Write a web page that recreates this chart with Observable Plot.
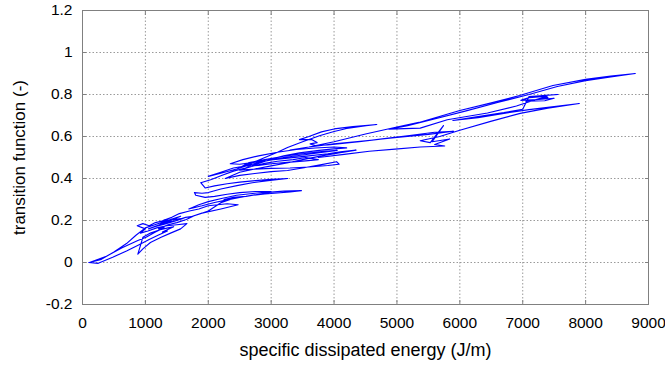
<!DOCTYPE html>
<html><head><meta charset="utf-8">
<script src="https://cdn.jsdelivr.net/npm/d3@7"></script>
<script src="https://cdn.jsdelivr.net/npm/@observablehq/plot@0.6"></script>
<style>body{margin:0;background:#fff;}</style>
</head><body><div id="chart"></div>
<script>
const xTicks = [0,1000,2000,3000,4000,5000,6000,7000,8000,9000];
const yTicks = [-0.2,0,0.2,0.4,0.6,0.8,1.0,1.2];
const xTitle = "specific dissipated energy (J/m)";
const yTitle = "transition function (-)";

// [specific dissipated energy (J/m), transition function (-)]
const lowBand = [
 [100,0.000],[250,-0.004],[480,0.025],[700,0.055],[900,0.085],[1060,0.11],[1200,0.13],[1350,0.15],[1270,0.145],[1450,0.17],[1360,0.165],[1220,0.155],[1080,0.14],[960,0.12],[880,0.04],[960,0.065],[1080,0.095],[1250,0.12],[1400,0.14],[1560,0.16],[1660,0.185],[1500,0.18],[1340,0.175],[1180,0.165],[1040,0.15],[920,0.14],[1000,0.16],[870,0.175],[960,0.185],[1060,0.175],[1160,0.19],[1300,0.2],[1240,0.185],[1400,0.2],[1560,0.22],[1460,0.21],[1300,0.195],[1150,0.18],[1000,0.165],[850,0.13],[700,0.09],[500,0.05],[300,0.015],[110,0.0],[380,0.03],[630,0.07],[880,0.105],[1010,0.12],[1160,0.145],[1300,0.165],[1210,0.16],[1360,0.18],[1500,0.19],[1650,0.205],[1760,0.22],[1640,0.215],[1480,0.2],[1320,0.19],[1180,0.175],[1050,0.16],[1150,0.17],[1300,0.182],[1450,0.195],[1600,0.21],[1450,0.205],[1280,0.2],[1420,0.215],[1540,0.233],[1700,0.245],[1850,0.255],[2000,0.27],[2300,0.28],[2475,0.275],[2200,0.255],[1900,0.235],[1690,0.214],[1800,0.225],[2000,0.245]
];
const midLow = [
 [2200,0.285],[2350,0.3],[2250,0.3],[2400,0.31],[2600,0.315],[2800,0.325],[3000,0.335],[3200,0.34],[3480,0.342],[3300,0.336],[3100,0.331],[2900,0.326],[2700,0.32],[2500,0.31],[2300,0.298],[2100,0.286],[1900,0.27],[1690,0.255],[1850,0.275],[2000,0.29],[2210,0.305],[2450,0.32],[2740,0.33],[3000,0.338],[2750,0.338],[2500,0.333],[2300,0.325],[2100,0.315],[1950,0.31],[1800,0.32],[1780,0.333],[1900,0.33],[2000,0.333],[2200,0.35],[2475,0.367],[2700,0.38],[2950,0.39],[3260,0.4],[3000,0.396],[2750,0.39],[2500,0.383],[2300,0.375],[2100,0.365],[1950,0.355]
];
const midBand = [
 [1880,0.38],[2050,0.395],[2210,0.414],[2400,0.435],[2590,0.45],[2800,0.472],[3000,0.492],[3200,0.508],[3450,0.522],[3730,0.533],[3950,0.54],[4200,0.546],[4000,0.55],[3700,0.545],[3400,0.538],[3100,0.525],[2800,0.508],[2550,0.49],[2350,0.47],[2500,0.468],[2750,0.478],[3000,0.488],[3300,0.498],[3600,0.508],[3900,0.518],[4100,0.527],[4350,0.535],[4100,0.523],[3800,0.508],[3500,0.49],[3250,0.474],[3000,0.46],[2740,0.445],[2500,0.43],[2270,0.4],[2500,0.415],[2740,0.424],[3000,0.433],[3260,0.438],[3500,0.45],[3780,0.465],[4040,0.48],[4080,0.468],[3900,0.462],[3600,0.455],[3300,0.45],[3000,0.448],[2700,0.444],[2500,0.44],[2700,0.458],[2900,0.472],[3100,0.482],[3350,0.49],[3550,0.5],[3750,0.49],[3550,0.484],[3300,0.478],[3000,0.47],[2800,0.462],[2600,0.46],[2400,0.45],[2200,0.43],[2000,0.41],[2200,0.425],[2450,0.445],[2650,0.465],[2900,0.482],[3200,0.5],[3500,0.512],[3800,0.524],[4050,0.534],[3800,0.528],[3500,0.518],[3200,0.506],[2900,0.49],[2650,0.476],[2475,0.448],[2700,0.475],[2900,0.5],[3100,0.525],[3260,0.548],[3500,0.575],[3780,0.605],[4000,0.624],[4200,0.638],[4510,0.652],[4680,0.657],[4300,0.647],[4000,0.636],[3800,0.622],[3600,0.6],[3450,0.585],[3650,0.585],[3730,0.571],[3620,0.565],[3700,0.557],[3900,0.56]
];
const longRuns = [
 [4400,0.575],[4800,0.59],[5200,0.605],[5600,0.62],[5900,0.625],[5500,0.61],[5000,0.595],[4500,0.58],[4000,0.565],[3600,0.55],[3300,0.535],[3600,0.55],[4000,0.575],[4500,0.612],[5000,0.645],[5350,0.667],[6000,0.724],[6500,0.76],[6950,0.795],[7480,0.843],[8000,0.872],[8400,0.888],[8790,0.9],[8400,0.884],[8000,0.866],[7550,0.838],[7100,0.8],[6600,0.762],[6100,0.722],[5580,0.682],[5170,0.652],[4870,0.635],[5370,0.64],[5800,0.68],[6440,0.712],[6900,0.745],[7200,0.775],[7390,0.792],[7100,0.785],[6970,0.772],[7250,0.776],[7500,0.782],[7350,0.77],[7050,0.768],[7400,0.785],[7300,0.795],[7560,0.8],[7100,0.79],[7000,0.73],[6700,0.714],[6290,0.695],[5890,0.676],[6290,0.69],[6700,0.71],[7100,0.728],[7500,0.742],[7900,0.757],[7400,0.735],[6960,0.71],[6490,0.672],[6000,0.63],[5680,0.6],[5370,0.58],[5530,0.571],[5740,0.652],[5560,0.575],[5840,0.588],[5600,0.562],[5760,0.555],[5370,0.55],[4970,0.54],[4560,0.53],[4160,0.515],[3750,0.5]
];

const path = [...lowBand, ...midLow, ...midBand, ...longRuns].map(([e, t]) => ({e, t}));
const fmt = d => String(+d.toFixed(1));
const tickStyle = {stroke: "#808080", text: null, label: null, tickSize: 4};

const chart = Plot.plot({
  width: 665, height: 371,
  marginLeft: 82, marginRight: 17, marginTop: 10, marginBottom: 67,
  style: {fontFamily: "'Liberation Sans', Arial, sans-serif", fontSize: "15.5px", color: "#000", background: "#fff"},
  x: {domain: [0, 9000]},
  y: {domain: [-0.2, 1.2]},
  marks: [
    Plot.gridX(xTicks.slice(1, -1), {stroke: "#9a9a9a", strokeOpacity: 1, strokeDasharray: "1.5,2"}),
    Plot.gridY(yTicks.slice(1, -1), {stroke: "#9a9a9a", strokeOpacity: 1, strokeDasharray: "1.5,2"}),
    Plot.line(path, {x: "e", y: "t", stroke: "#0000ff", strokeWidth: 1.15}),
    Plot.frame({stroke: "#808080"}),
    Plot.axisX(xTicks, {anchor: "bottom", tickSize: 0, tickPadding: 12, label: null, tickFormat: fmt, fill: "#000"}),
    Plot.axisY(yTicks, {anchor: "left", tickSize: 0, tickPadding: 10, label: null, tickFormat: fmt, fill: "#000"}),
    Plot.axisX(xTicks, {...tickStyle, anchor: "bottom", dy: -4}),
    Plot.axisX(xTicks, {...tickStyle, anchor: "top", dy: 4}),
    Plot.axisY(yTicks, {...tickStyle, anchor: "left", dx: 4}),
    Plot.axisY(yTicks, {...tickStyle, anchor: "right", dx: -4}),
    Plot.text([xTitle], {frameAnchor: "bottom", lineAnchor: "middle", textAnchor: "middle", dy: 46, fontSize: 18, fill: "#000"}),
    Plot.text([yTitle], {frameAnchor: "left", lineAnchor: "middle", textAnchor: "middle", rotate: -90, dx: -63, fontSize: 17, fill: "#000"})
  ]
});
document.getElementById("chart").appendChild(chart);
</script>
</body></html>
